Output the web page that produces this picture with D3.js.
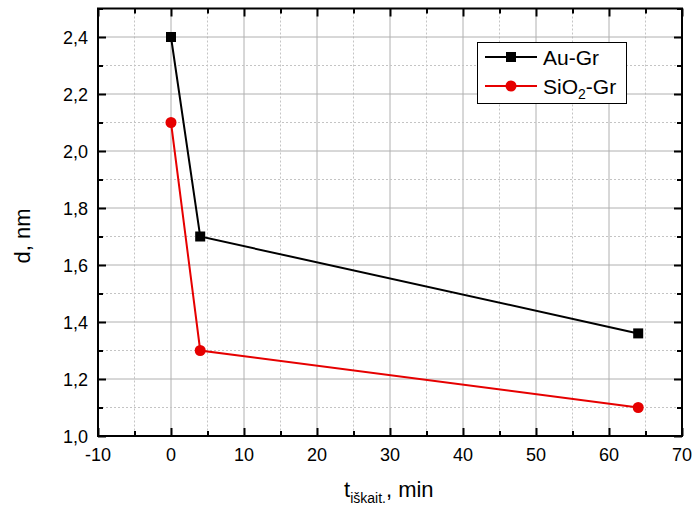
<!DOCTYPE html>
<html>
<head>
<meta charset="utf-8">
<script src="https://cdn.jsdelivr.net/npm/d3@7"></script>
<style>
  html, body { margin: 0; padding: 0; background: #fff; }
  svg { display: block; font-family: "Liberation Sans", Arial, sans-serif; }
</style>
</head>
<body>
<svg id="chart" width="692" height="506"></svg>
<script>
// ---- data ----
const timeMin = [0, 4, 64];
const auGr = [2.4, 1.7, 1.36];
const sio2Gr = [2.1, 1.3, 1.1];
const xTicks = [-10, 0, 10, 20, 30, 40, 50, 60, 70];
const xMinorTicks = [-5, 5, 15, 25, 35, 45, 55, 65];
const yTicks = [1.0, 1.2, 1.4, 1.6, 1.8, 2.0, 2.2, 2.4];
const yMinorTicks = [1.1, 1.3, 1.5, 1.7, 1.9, 2.1, 2.3, 2.5];

const svg = d3.select("#chart");
const m = { left: 98, right: 682, top: 8.5, bottom: 436 };
const x = d3.scaleLinear().domain([-10, 70]).range([m.left, m.right]);
const y = d3.scaleLinear().domain([1.0, 2.5]).range([m.bottom, m.top]);
const fmt = d => d3.format(".1f")(d).replace(".", ",");

// grid
const g = svg.append("g");
g.selectAll(".gxM").data(xTicks).join("line")
  .attr("x1", d => x(d)).attr("x2", d => x(d)).attr("y1", m.top).attr("y2", m.bottom)
  .attr("stroke", "#b0b0b0").attr("stroke-width", 1);
g.selectAll(".gxm").data(xMinorTicks).join("line")
  .attr("x1", d => x(d)).attr("x2", d => x(d)).attr("y1", m.top).attr("y2", m.bottom)
  .attr("stroke", "#c4c4c4").attr("stroke-width", 1).attr("stroke-dasharray", "2,2");
g.selectAll(".gyM").data(yTicks).join("line")
  .attr("y1", d => y(d)).attr("y2", d => y(d)).attr("x1", m.left).attr("x2", m.right)
  .attr("stroke", "#b0b0b0").attr("stroke-width", 1);
g.selectAll(".gym").data(yMinorTicks).join("line")
  .attr("y1", d => y(d)).attr("y2", d => y(d)).attr("x1", m.left).attr("x2", m.right)
  .attr("stroke", "#c4c4c4").attr("stroke-width", 1).attr("stroke-dasharray", "2,2");

// axes with inward ticks
function axisTicks(axisGen, major, minor, transform) {
  const a = svg.append("g").attr("transform", transform);
  a.call(axisGen.tickValues(major).tickSize(-8).tickFormat(""));
  const b = svg.append("g").attr("transform", transform);
  b.call(axisGen.tickValues(minor).tickSize(-5).tickFormat(""));
  [a, b].forEach(s => { s.select(".domain").remove(); s.selectAll("line").attr("stroke", "#000").attr("stroke-width", 2); });
}
axisTicks(d3.axisBottom(x), xTicks, xMinorTicks, `translate(0,${m.bottom})`);
axisTicks(d3.axisTop(x), xTicks, xMinorTicks, `translate(0,${m.top})`);
axisTicks(d3.axisLeft(y), yTicks, yMinorTicks, `translate(${m.left},0)`);
axisTicks(d3.axisRight(y), yTicks, yMinorTicks, `translate(${m.right},0)`);

// tick labels
svg.append("g").selectAll("text").data(xTicks).join("text")
  .attr("x", d => x(d)).attr("y", 461).attr("text-anchor", "middle")
  .attr("font-size", 18).attr("fill", "#000").text(d => d);
svg.append("g").selectAll("text").data(yTicks).join("text")
  .attr("x", 88).attr("y", d => y(d) + 6.5).attr("text-anchor", "end")
  .attr("font-size", 18).attr("fill", "#000").text(fmt);

// frame
svg.append("rect").attr("x", m.left).attr("y", m.top)
  .attr("width", m.right - m.left).attr("height", m.bottom - m.top)
  .attr("fill", "none").attr("stroke", "#000").attr("stroke-width", 2);

// series
const series = [
  { name: "Au-Gr", vals: auGr, color: "#000000", shape: "square" },
  { name: "SiO2-Gr", vals: sio2Gr, color: "#e60000", shape: "circle" }
];
const line = d3.line().x(d => x(d[0])).y(d => y(d[1]));
function marker(sel, s, cx, cy) {
  if (s.shape === "square") {
    sel.append("rect").attr("x", cx - 5).attr("y", cy - 5).attr("width", 10).attr("height", 10).attr("fill", s.color);
  } else {
    sel.append("circle").attr("cx", cx).attr("cy", cy).attr("r", 5.5).attr("fill", s.color);
  }
}
series.forEach(s => {
  const pts = timeMin.map((t, i) => [t, s.vals[i]]);
  const sg = svg.append("g");
  sg.append("path").datum(pts).attr("d", line).attr("fill", "none")
    .attr("stroke", s.color).attr("stroke-width", 2);
  pts.forEach(p => marker(sg, s, x(p[0]), y(p[1])));
});

// legend
const lg = svg.append("g");
lg.append("rect").attr("x", 477.5).attr("y", 42.5).attr("width", 149).attr("height", 61)
  .attr("fill", "#fff").attr("stroke", "#000").attr("stroke-width", 1);
const rowsY = [57, 86];
series.forEach((s, i) => {
  const ry = rowsY[i];
  lg.append("line").attr("x1", 485).attr("x2", 537).attr("y1", ry).attr("y2", ry)
    .attr("stroke", s.color).attr("stroke-width", 2);
  marker(lg, s, 511, ry);
  const t = lg.append("text").attr("x", 543).attr("y", ry + 8).attr("font-size", 21).attr("fill", "#000");
  if (s.name === "SiO2-Gr") {
    t.append("tspan").text("SiO");
    t.append("tspan").attr("font-size", 14).attr("dy", 5).text("2");
    t.append("tspan").attr("dy", -5).text("-Gr");
  } else {
    t.text(s.name);
  }
});

// axis titles
const xt = svg.append("text").attr("x", 344).attr("y", 497).attr("font-size", 22).attr("fill", "#000");
xt.append("tspan").text("t");
xt.append("tspan").attr("font-size", 14).attr("dy", 6).text("iškait.");
xt.append("tspan").attr("dy", -6).text(", min");

svg.append("text").attr("transform", "translate(30,236) rotate(-90)")
  .attr("text-anchor", "middle").attr("font-size", 22).attr("fill", "#000").text("d, nm");
</script>
</body>
</html>
